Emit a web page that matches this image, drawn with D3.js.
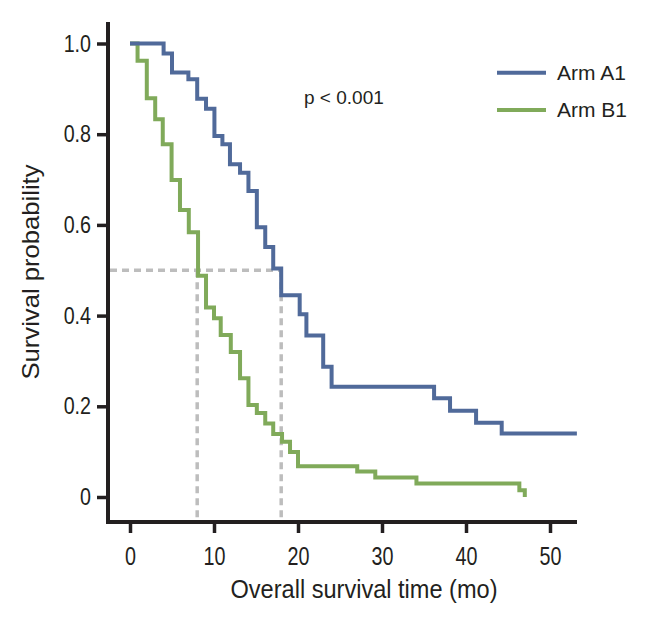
<!DOCTYPE html>
<html>
<head>
<meta charset="utf-8">
<script src="https://cdn.jsdelivr.net/npm/d3@7"></script>
<style>
  body { margin: 0; background: #fff; }
  svg { display: block; }
  text { font-family: "Liberation Sans", Arial, sans-serif; fill: #231f20; }
</style>
</head>
<body>
<div id="chart"></div>
<script>
// Kaplan-Meier steps: [months, survival after the drop]
const armA = [
  [0, 1.0], [4.0, 0.978], [5.0, 0.936], [6.95, 0.921], [8.0, 0.878], [9.05, 0.856],
  [10.05, 0.796], [11.0, 0.778], [11.9, 0.734], [13.1, 0.715], [14.1, 0.675],
  [15.1, 0.595], [16.1, 0.551], [17.05, 0.504], [18.0, 0.445], [20.2, 0.403],
  [21.0, 0.356], [23.0, 0.287], [24.0, 0.243], [36.2, 0.218], [38.1, 0.190],
  [41.2, 0.164], [44.25, 0.140], [53.2, 0.140]
];
const armB = [
  [0, 1.0], [0.9, 0.962], [2.0, 0.879], [3.0, 0.833], [3.9, 0.778], [4.95, 0.699],
  [5.95, 0.633], [7.0, 0.584], [8.1, 0.488], [9.05, 0.418], [10.0, 0.394],
  [10.8, 0.357], [12.0, 0.320], [13.1, 0.262], [14.1, 0.203], [15.1, 0.185],
  [16.1, 0.162], [17.05, 0.139], [18.1, 0.122], [19.05, 0.099], [20.0, 0.068],
  [27.05, 0.056], [29.2, 0.043], [34.1, 0.030], [46.35, 0.015], [47.0, 0.0]
];
const medians = [8, 18];
const xTicks = [0, 10, 20, 30, 40, 50];
const yTicks = [0, 0.2, 0.4, 0.6, 0.8, 1.0];
const seriesNames = ['Arm A1', 'Arm B1'];
const pLabel = 'p < 0.001';

const width = 661, height = 622;
const blue = '#506a9a', green = '#80aa5a', dashGray = '#bdbdbd', ink = '#231f20';

const svg = d3.select('#chart').append('svg')
  .attr('width', width)
  .attr('height', height);

const x = d3.scaleLinear().domain([0, 50]).range([130, 550]);
const y = d3.scaleLinear().domain([0, 1]).range([497, 43.5]);

const axisX = 108, axisY = 522;

// squeeze text to look like a condensed face
function condense(sel, f) {
  sel.each(function() {
    const len = this.getComputedTextLength();
    d3.select(this).attr('textLength', len * f).attr('lengthAdjust', 'spacingAndGlyphs');
  });
}

// median guides
const guides = svg.append('g')
  .attr('stroke', dashGray)
  .attr('stroke-width', 3.5)
  .attr('stroke-dasharray', '7,5')
  .attr('fill', 'none');
guides.append('line')
  .attr('x1', axisX + 2).attr('x2', x(d3.max(medians)))
  .attr('y1', y(0.5)).attr('y2', y(0.5));
guides.selectAll('line.v')
  .data(medians)
  .enter()
  .append('line')
  .attr('class', 'v')
  .attr('x1', d => x(d)).attr('x2', d => x(d))
  .attr('y1', y(0.5)).attr('y2', axisY - 2);

// survival curves
const line = d3.line()
  .x(d => x(d[0]))
  .y(d => y(d[1]))
  .curve(d3.curveStepAfter);

svg.append('path')
  .datum(armB)
  .attr('d', line)
  .attr('fill', 'none')
  .attr('stroke', green)
  .attr('stroke-width', 4);

svg.append('path')
  .datum(armA)
  .attr('d', line)
  .attr('fill', 'none')
  .attr('stroke', blue)
  .attr('stroke-width', 4);

// axes
const gy = svg.append('g')
  .attr('transform', `translate(${axisX},0)`)
  .call(d3.axisLeft(y).tickValues(yTicks).tickSize(11).tickPadding(6)
    .tickFormat(d => d === 0 ? '0' : d.toFixed(1)));
gy.select('.domain').remove();
gy.selectAll('.tick line').attr('stroke', ink).attr('stroke-width', 3.5);
gy.selectAll('.tick text')
  .attr('font-family', '"Liberation Sans", Arial, sans-serif')
  .attr('font-size', 24)
  .attr('fill', ink)
  .call(condense, 0.82);

const gx = svg.append('g')
  .attr('transform', `translate(0,${axisY})`)
  .call(d3.axisBottom(x).tickValues(xTicks).tickSize(11).tickPadding(14));
gx.select('.domain').remove();
gx.selectAll('.tick line').attr('stroke', ink).attr('stroke-width', 3.5);
gx.selectAll('.tick text')
  .attr('font-family', '"Liberation Sans", Arial, sans-serif')
  .attr('font-size', 26)
  .attr('fill', ink)
  .call(condense, 0.76);

svg.append('line')
  .attr('x1', axisX).attr('x2', axisX)
  .attr('y1', 22).attr('y2', axisY + 2)
  .attr('stroke', ink).attr('stroke-width', 4);
svg.append('line')
  .attr('x1', axisX - 2).attr('x2', 577)
  .attr('y1', axisY).attr('y2', axisY)
  .attr('stroke', ink).attr('stroke-width', 4);

// axis titles
svg.append('text')
  .attr('x', 364).attr('y', 598)
  .attr('text-anchor', 'middle')
  .attr('font-size', 25)
  .attr('textLength', 267)
  .attr('lengthAdjust', 'spacingAndGlyphs')
  .text('Overall survival time (mo)');

svg.append('text')
  .attr('transform', 'translate(39,272) rotate(-90)')
  .attr('text-anchor', 'middle')
  .attr('font-size', 24)
  .attr('textLength', 215)
  .attr('lengthAdjust', 'spacingAndGlyphs')
  .text('Survival probability');

// p-value
svg.append('text')
  .attr('x', 304).attr('y', 97)
  .attr('dy', '0.35em')
  .attr('font-size', 19)
  .text(pLabel);

// legend
const legend = svg.append('g');
const legendItems = legend.selectAll('g')
  .data(seriesNames)
  .enter()
  .append('g')
  .attr('transform', (d, i) => `translate(497,${72.7 + i * 37.3})`);
legendItems.append('line')
  .attr('x1', 0).attr('x2', 49)
  .attr('stroke', (d, i) => i === 0 ? blue : green)
  .attr('stroke-width', 4);
legendItems.append('text')
  .attr('x', 60)
  .attr('dy', '0.35em')
  .attr('font-size', 21)
  .text(d => d);
</script>
</body>
</html>
